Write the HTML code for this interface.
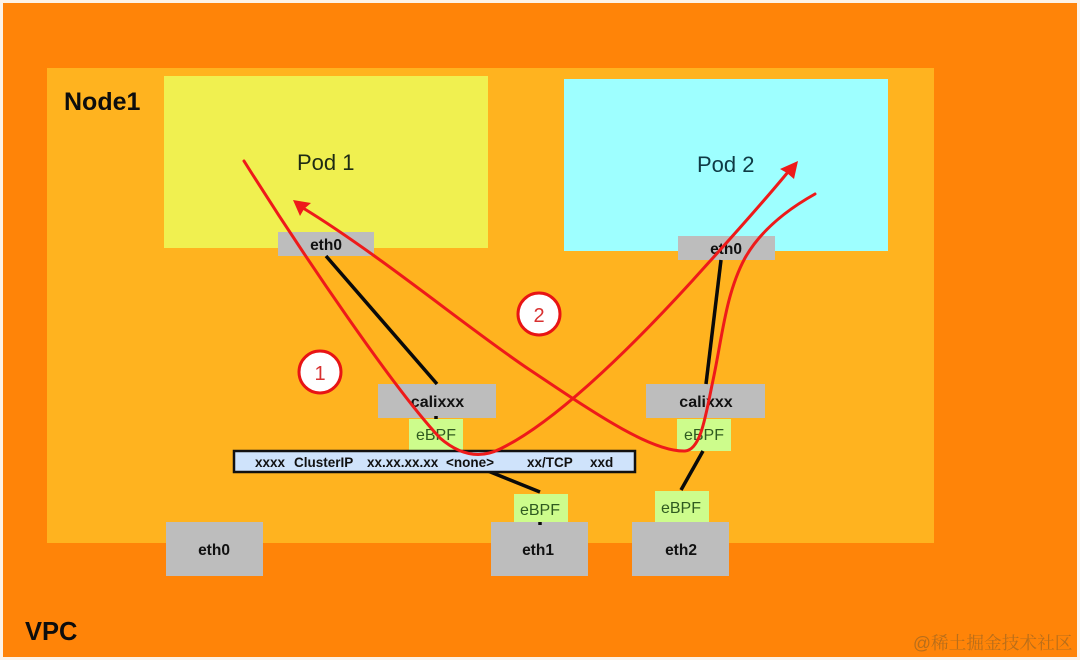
<!DOCTYPE html>
<html><head><meta charset="utf-8"><style>
html,body{margin:0;padding:0;background:#fdf6ee}
svg{display:block;font-family:"Liberation Sans",sans-serif;filter:blur(0.35px)}
</style></head><body>
<svg width="1080" height="660" viewBox="0 0 1080 660" xmlns="http://www.w3.org/2000/svg">
<rect width="1080" height="660" fill="#fdf3e6"/>
<rect x="3" y="3" width="1074" height="654" fill="#ff8408"/>
<rect x="47" y="68" width="887" height="475" fill="#ffb31f"/>
<rect x="164" y="76" width="324" height="172" fill="#f0f050"/>
<rect x="564" y="79" width="324" height="172" fill="#9effff"/>
<g fill="#bdbdbd">
<rect x="278" y="232" width="96" height="24"/>
<rect x="678" y="236" width="97" height="24"/>
<rect x="378" y="384" width="118" height="34"/>
<rect x="646" y="384" width="119" height="34"/>
<rect x="166" y="522" width="97" height="54"/>
<rect x="491" y="522" width="97" height="54"/>
<rect x="632" y="522" width="97" height="54"/>
</g>
<g fill="#cdfc8c">
<rect x="409" y="419" width="54" height="31"/>
<rect x="677" y="419" width="54" height="32"/>
<rect x="514" y="494" width="54" height="28"/>
<rect x="655" y="491" width="54" height="31"/>
</g>
<g stroke="#0a0a0a" stroke-width="3.5" fill="none">
<line x1="326" y1="256" x2="437" y2="384"/>
<line x1="721" y1="260" x2="706" y2="384"/>
<line x1="703" y1="451" x2="681" y2="490"/>
<line x1="488" y1="471" x2="540" y2="492"/>
<line x1="436" y1="416" x2="436" y2="419"/>
<line x1="540" y1="522" x2="540" y2="525"/>
</g>
<rect x="234" y="451" width="401" height="21" fill="#cfe3fb" stroke="#111" stroke-width="2.5"/>
<text x="297" y="170" font-size="22" fill="#1e2a14">Pod 1</text>
<text x="697" y="172" font-size="22" fill="#0f3a44">Pod 2</text>
<g font-weight="bold" fill="#0d0d0d">
<text x="64" y="110" font-size="25">Node1</text>
<text x="25" y="640" font-size="25.5">VPC</text>
</g>
<g font-weight="bold" font-size="15.5" fill="#111" text-anchor="middle">
<text x="326" y="250">eth0</text>
<text x="726" y="254">eth0</text>
<text x="437.5" y="407" font-size="16">calixxx</text>
<text x="706" y="407" font-size="16">calixxx</text>
<text x="214" y="555">eth0</text>
<text x="538" y="555">eth1</text>
<text x="681" y="555">eth2</text>
</g>
<g font-size="16" fill="#2f5a20" text-anchor="middle">
<text x="436" y="440">eBPF</text>
<text x="704" y="440">eBPF</text>
<text x="540" y="515">eBPF</text>
<text x="681" y="513">eBPF</text>
</g>
<g font-weight="bold" font-size="13.5" fill="#111">
<text x="255" y="467">xxxx</text>
<text x="294" y="467">ClusterIP</text>
<text x="367" y="467">xx.xx.xx.xx</text>
<text x="446" y="467">&lt;none&gt;</text>
<text x="527" y="467">xx/TCP</text>
<text x="590" y="467">xxd</text>
</g>
<g fill="none" stroke="#ee1a1a" stroke-width="3" stroke-linecap="round">
<path d="M244 161 C305 258 395 390 440 438 C462 457 482 458 500 449 C550 425 620 360 693 280 C720 250 755 212 788 172"/>
<path d="M815 194 C790 208 762 228 745 258 C725 295 722 340 712 385 C705 420 700 450 685 451 C650 452 590 410 530 370 C470 330 380 255 303 208"/>
</g>
<polygon points="798,161 794,179 787,173 780,169" fill="#ee1a1a"/>
<polygon points="293,200 311,203 304,209 300,216" fill="#ee1a1a"/>
<circle cx="320" cy="372" r="21" fill="#fff" stroke="#e81414" stroke-width="3"/>
<circle cx="539" cy="314" r="21" fill="#fff" stroke="#e81414" stroke-width="3"/>
<text x="320" y="380" font-size="20" fill="#d83030" text-anchor="middle">1</text>
<text x="539" y="322" font-size="20" fill="#d83030" text-anchor="middle">2</text>
<text x="913" y="649" font-size="17.7" fill="#b96e1a" style="font-family:'Liberation Sans','Noto Serif CJK SC',serif">@稀土掘金技术社区</text>
</svg>
</body></html>
